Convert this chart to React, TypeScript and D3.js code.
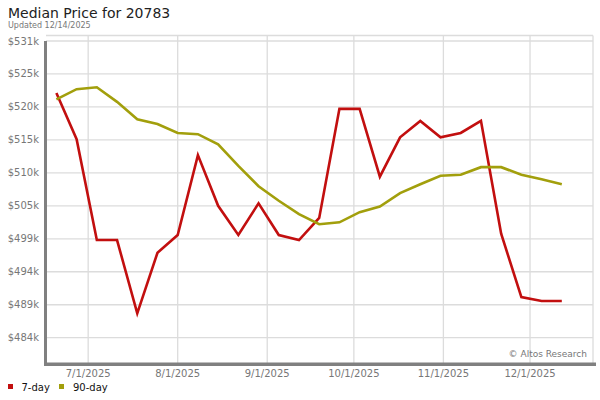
import React from "react";
import * as d3 from "d3";

const dates: string[] = [
  "2025-06-20", "2025-06-27", "2025-07-04", "2025-07-11", "2025-07-18", "2025-07-25",
  "2025-08-01", "2025-08-08", "2025-08-15", "2025-08-22", "2025-08-29", "2025-09-05",
  "2025-09-12", "2025-09-19", "2025-09-26", "2025-10-03", "2025-10-10", "2025-10-17",
  "2025-10-24", "2025-10-31", "2025-11-07", "2025-11-14", "2025-11-21", "2025-11-28",
  "2025-12-05", "2025-12-12",
];
const sevenDay: number[] = [
  522.4, 515.1, 499.2, 499.2, 487.65, 497.2, 500.0, 512.6, 504.6, 500.0, 505.0, 500.0, 499.2,
  502.7, 519.9, 519.9, 509.2, 515.4, 518.0, 515.4, 516.1, 518.0, 500.2, 490.2, 489.6, 489.6,
];
const ninetyDay: number[] = [
  521.4, 523.0, 523.3, 521.0, 518.25, 517.5, 516.1, 515.9, 514.3, 510.9, 507.7, 505.4, 503.3,
  501.7, 502.0, 503.6, 504.5, 506.6, 508.0, 509.35, 509.5, 510.7, 510.7, 509.5, 508.8, 508.0,
];
const yTicks: number[] = [483.8, 489.0, 494.2, 499.4, 504.6, 509.8, 515.0, 520.2, 525.4, 530.6];
const yTickLabels: string[] = ["$484k", "$489k", "$494k", "$499k", "$505k", "$510k", "$515k", "$520k", "$525k", "$531k"];
const xTicks: string[] = ["2025-07-01", "2025-08-01", "2025-09-01", "2025-10-01", "2025-11-01", "2025-12-01"];
const xTickLabels: string[] = ["7/1/2025", "8/1/2025", "9/1/2025", "10/1/2025", "11/1/2025", "12/1/2025"];
const seriesNames: string[] = ["7-day", "90-day"];
const seriesColors: string[] = ["#c20f0f", "#a29f0c"];

const parse = (s: string) => {
  const [y, m, d] = s.split("-").map(Number);
  return new Date(y, m - 1, d);
};

export default function App() {
  const W = 600, H = 400;
  const left = 46, right = 593, top = 35.5, bottom = 363;
  const font = "DejaVu Sans, Verdana, sans-serif";

  const x = d3.scaleTime()
    .domain([new Date(2025, 5, 16, 9, 36), new Date(2025, 11, 22, 19, 12)])
    .range([left, right]);
  const y = d3.scaleLinear().domain([483.8, 530.6]).range([337.7, 41]);

  const pts = dates.map(parse);
  const line = d3.line<number>()
    .x((_, i) => x(pts[i]))
    .y((v) => y(v));

  const series = [sevenDay, ninetyDay];

  return (
    <svg width={W} height={H} style={{ position: "absolute", left: 0, top: 0 }} fontFamily={font}>
      <rect x={0} y={0} width={W} height={H} fill="#fff" />
      <text x={8} y={18} fontSize={14} fill="#222">Median Price for 20783</text>
      <text x={8} y={28} fontSize={8} fill="#777">Updated 12/14/2025</text>

      {/* grid */}
      <line x1={left} x2={right} y1={top} y2={top} stroke="#dcdcdc" strokeWidth={1.3} />
      <line x1={right} x2={right} y1={top} y2={bottom} stroke="#dcdcdc" strokeWidth={1.3} />
      {yTicks.map((t, i) => (
        <g key={"y" + i}>
          <line x1={left} x2={right} y1={y(t)} y2={y(t)} stroke="#dcdcdc" strokeWidth={1.3} />
          <text x={39} y={y(t) + 3.5} fontSize={10} fill="#777" textAnchor="end">{yTickLabels[i]}</text>
        </g>
      ))}
      {xTicks.map((t, i) => (
        <g key={"x" + i}>
          <line x1={x(parse(t))} x2={x(parse(t))} y1={top} y2={bottom} stroke="#dcdcdc" strokeWidth={1.3} />
          <text x={x(parse(t))} y={377} fontSize={10} fill="#777" textAnchor="middle">{xTickLabels[i]}</text>
        </g>
      ))}

      <text x={587} y={357} fontSize={9} fill="#777" textAnchor="end">© Altos Research</text>

      {/* axes */}
      <rect x={44} y={41} width={3} height={325} fill="#808080" />
      <rect x={44} y={362.5} width={552} height={3.5} fill="#808080" />

      {/* series */}
      {series.map((s, k) => (
        <path key={"s" + k} d={line(s) || ""} fill="none" stroke={seriesColors[k]} strokeWidth={2.6} strokeLinejoin="miter" />
      ))}

      {/* legend */}
      {seriesNames.map((n, k) => (
        <g key={"l" + k}>
          <rect x={8 + k * 51} y={384} width={5} height={5} fill={seriesColors[k]} />
          <text x={21.5 + k * 51.5} y={390.5} fontSize={10} fill="#111">{n}</text>
        </g>
      ))}
    </svg>
  );
}
